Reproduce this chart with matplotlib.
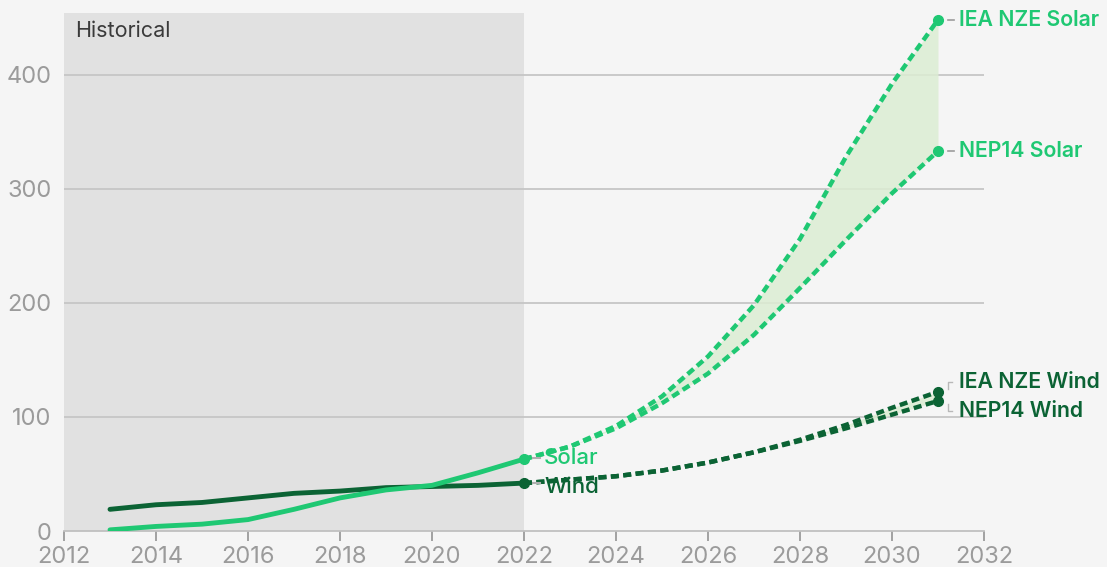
import matplotlib.pyplot as plt

# historical capacity
hist_years = [2013, 2014, 2015, 2016, 2017, 2018, 2019, 2020, 2021, 2022]
solar_hist = [1, 4, 6, 10, 19, 29, 36, 40, 51, 63]
wind_hist = [19, 23, 25, 29, 33, 35, 38, 39, 40, 42]

# projections
proj_years = [2022, 2023, 2024, 2025, 2026, 2027, 2028, 2029, 2030, 2031]
solar_iea = [63, 74, 92, 118, 153, 198, 256, 328, 392, 448]
solar_nep = [63, 74, 90, 112, 138, 172, 213, 255, 296, 333]
wind_iea = [42, 45, 48, 53, 60, 69, 80, 93, 108, 122]
wind_nep = [42, 45, 48, 53, 60, 69, 79, 90, 102, 114]

xticks = list(range(2012, 2033, 2))
yticks = [0, 100, 200, 300, 400]

SOLAR = "#1fc873"
WIND = "#0b6334"
BG = "#f5f5f5"
GREY = "#9b9b9b"

plt.rcParams["font.family"] = ["Inter", "DejaVu Sans"]

fig = plt.figure(figsize=(11.07, 5.67), dpi=100, facecolor=BG)
ax = fig.add_axes([64 / 1107, 1 - 531 / 567, (984 - 64) / 1107, (531 - 13) / 567])
ax.set_facecolor(BG)

ax.axvspan(2012, 2022, color="#e1e1e1", zorder=0, lw=0)
for y in yticks[1:]:
    ax.axhline(y, color="#c6c6c6", lw=1.3, zorder=0.5)

ax.fill_between(proj_years, solar_nep, solar_iea, color="#dcedd3", alpha=0.85, lw=0, zorder=1)
ax.fill_between(proj_years, wind_nep, wind_iea, color="#dcedd3", alpha=0.85, lw=0, zorder=1)

dash = (0, (1.8, 1.0))
ax.plot(proj_years, wind_nep, color=WIND, lw=3.2, ls=dash, zorder=2)
ax.plot(proj_years, wind_iea, color=WIND, lw=3.2, ls=dash, zorder=2)
ax.plot(proj_years, solar_nep, color=SOLAR, lw=3.2, ls=dash, zorder=2)
ax.plot(proj_years, solar_iea, color=SOLAR, lw=3.2, ls=dash, zorder=2)

ax.plot(hist_years, wind_hist, color=WIND, lw=3.5, solid_capstyle="round", zorder=3)
ax.plot(hist_years, solar_hist, color=SOLAR, lw=3.5, solid_capstyle="round", zorder=3)

# end markers
ax.plot([hist_years[-1]], [solar_hist[-1]], "o", color=SOLAR, ms=7, zorder=4)
ax.plot([hist_years[-1]], [wind_hist[-1]], "o", color=WIND, ms=7, zorder=4)
for vals, c in [(solar_iea, SOLAR), (solar_nep, SOLAR), (wind_iea, WIND), (wind_nep, WIND)]:
    ax.plot([proj_years[-1]], [vals[-1]], "o", color=c, ms=7, zorder=4, clip_on=False)

# labels
ax.text(2012.24, 438, "Historical", color="#3a3a3a", fontsize=15.5, va="center")
ax.text(2022.42, 64, "Solar", color=SOLAR, fontsize=16, fontweight="medium", va="center")
ax.text(2022.45, 39, "Wind", color=WIND, fontsize=16, fontweight="medium", va="center")
ax.plot([2022.2, 2022.35], [64, 64], color="#b0b0b0", lw=1.5)
ax.plot([2022.2, 2022.35], [42, 42], color="#b0b0b0", lw=1.5)

right = [("IEA NZE Solar", solar_iea[-1], solar_iea[-1], SOLAR),
         ("NEP14 Solar", solar_nep[-1], solar_nep[-1], SOLAR),
         ("IEA NZE Wind", wind_iea[-1], 131, WIND),
         ("NEP14 Wind", wind_nep[-1], 105, WIND)]
for label, yv, ty, c in right:
    ax.text(2031.45, ty, label, color=c, fontsize=15.3, fontweight="semibold",
            va="center", clip_on=False)
    if yv == ty:
        ax.plot([2031.22, 2031.34], [ty, ty], color=GREY, lw=1.2, clip_on=False)
    else:
        ax.plot([2031.22, 2031.22, 2031.3], [yv + (ty - yv) * 0.3, ty, ty],
                color="#b8b8b8", lw=1.0, clip_on=False)

ax.set_xlim(2012, 2032)
ax.set_ylim(0, 454)
ax.set_xticks(xticks)
ax.set_yticks(yticks)
ax.tick_params(axis="x", colors=GREY, labelsize=17, length=7, width=1.3, pad=4)
ax.tick_params(axis="y", colors=GREY, labelsize=17, length=0, pad=9)
for s in ["top", "right", "left"]:
    ax.spines[s].set_visible(False)
ax.spines["bottom"].set_color("#c0c0c0")
ax.spines["bottom"].set_linewidth(1.3)

fig.savefig("out.png", dpi=100, facecolor=BG)
